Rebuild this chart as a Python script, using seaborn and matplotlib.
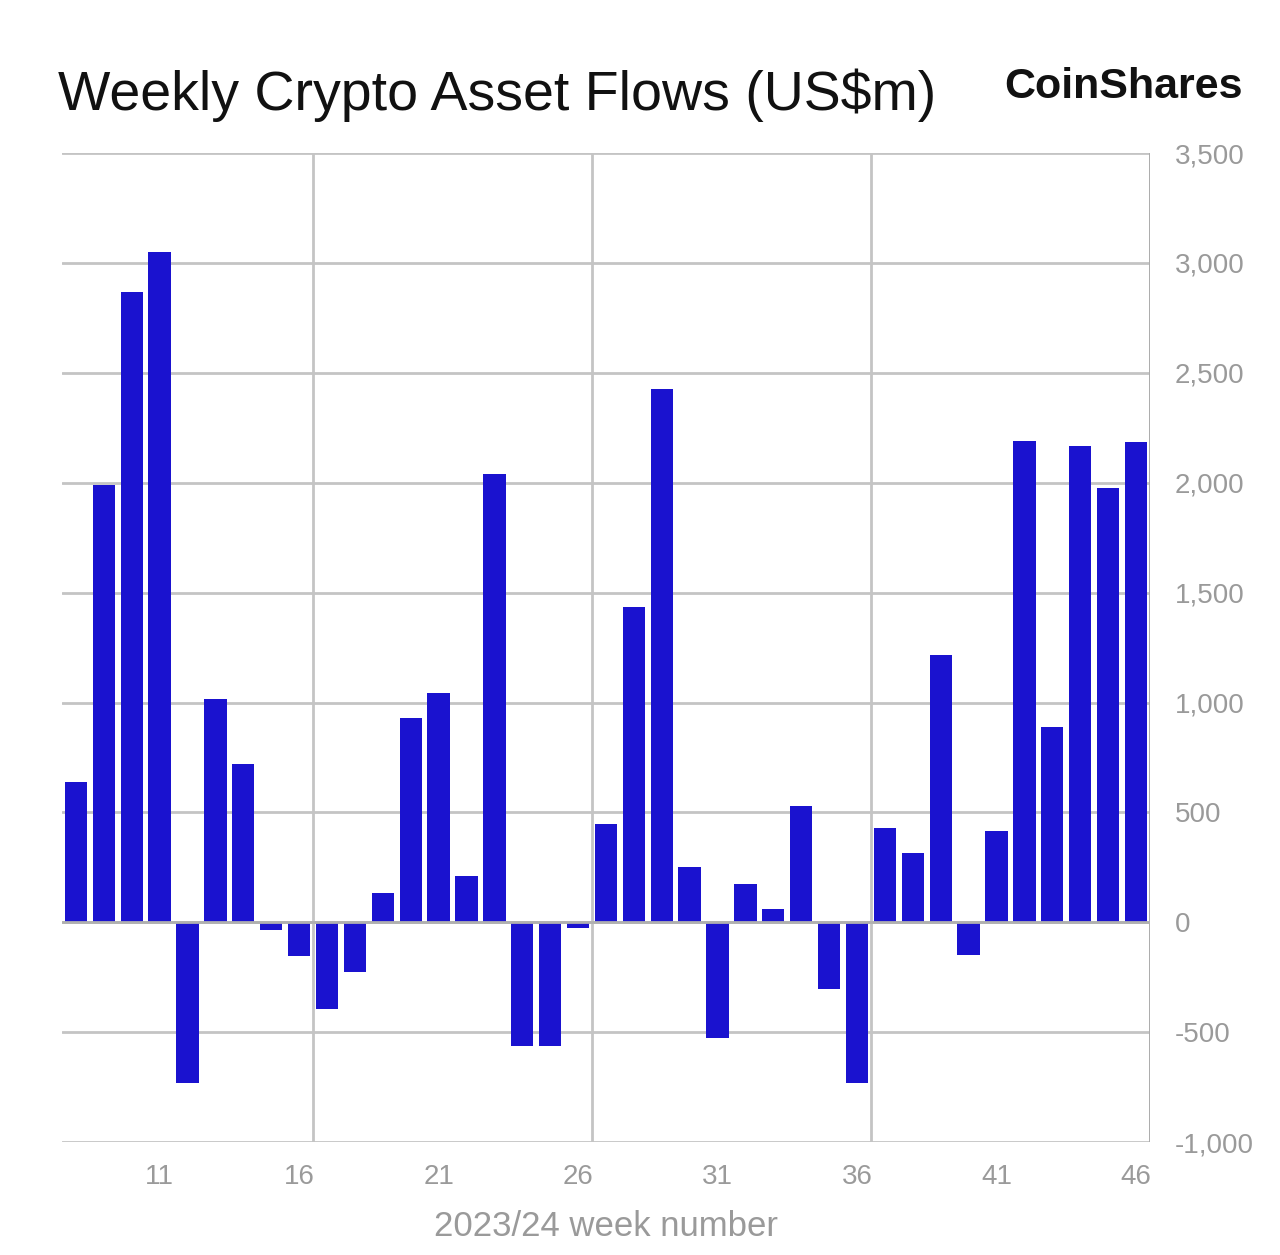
import pandas as pd
import seaborn as sns
import matplotlib.pyplot as plt
from matplotlib.ticker import FuncFormatter, FixedLocator

weeks = list(range(8, 47))
flows = [640, 1990, 2870, 3050, -730, 1015, 720, -35, -155, -395, -225, 135,
         930, 1045, 210, 2040, -565, -565, -25, 445, 1435, 2425, 250, -525,
         175, 60, 530, -305, -730, 430, 315, 1215, -150, 415, 2190, 890,
         2165, 1975, 2185]
tick_weeks = [11, 16, 21, 26, 31, 36, 41, 46]
grid_weeks = [16.5, 26.5, 36.5, 46.5]
y_ticks = [-1000, -500, 0, 500, 1000, 1500, 2000, 2500, 3000, 3500]

df = pd.DataFrame({'week': weeks, 'flow': flows})

sns.set_theme(style='white')
plt.rcParams['font.family'] = ['Liberation Sans', 'DejaVu Sans']

fig = plt.figure(figsize=(12.8, 12.55), dpi=100)
ax = fig.add_axes([0.0484, 0.090, 0.850, 0.788])

sns.barplot(data=df, x='week', y='flow', native_scale=True, width=0.8,
            color='#1a12cf', saturation=1, edgecolor='none', ax=ax, zorder=3)

grid_c = '#c4c4c4'
for y in y_ticks:
    ax.axhline(y, color=grid_c, lw=2, zorder=1)
for x in grid_weeks:
    ax.axvline(x, color=grid_c, lw=2, zorder=1)
ax.axvline(46.5, color='#aaaaaa', lw=2, zorder=1)
ax.axhline(0, color='#b0b0b0', lw=2, zorder=4)

ax.set_xlim(7.5, 46.5)
ax.set_ylim(-1000, 3500)
for s in ax.spines.values():
    s.set_visible(False)

ax.xaxis.set_major_locator(FixedLocator(tick_weeks))
ax.set_xticklabels([str(w) for w in tick_weeks])
ax.yaxis.tick_right()
ax.set_yticks(y_ticks)
ax.yaxis.set_major_formatter(FuncFormatter(lambda v, p: f'{int(v):,}'))
ax.tick_params(axis='x', colors='#9a9a9a', labelsize=20, length=0, pad=16)
ax.tick_params(axis='y', colors='#9a9a9a', labelsize=20, length=0, pad=18)
for lab in ax.get_yticklabels():
    lab.set_color('#9a9a9a')
ax.set_ylabel('')
ax.set_xlabel('2023/24 week number', fontsize=25, color='#9a9a9a', labelpad=14)

fig.text(0.045, 0.912, 'Weekly Crypto Asset Flows (US$m)', fontsize=40,
         color='#111111', ha='left', va='baseline')
fig.text(0.971, 0.922, 'CoinShares', fontsize=31, fontweight='bold',
         color='#111111', ha='right', va='baseline')

fig.savefig('out.png', dpi=100, facecolor='white')
